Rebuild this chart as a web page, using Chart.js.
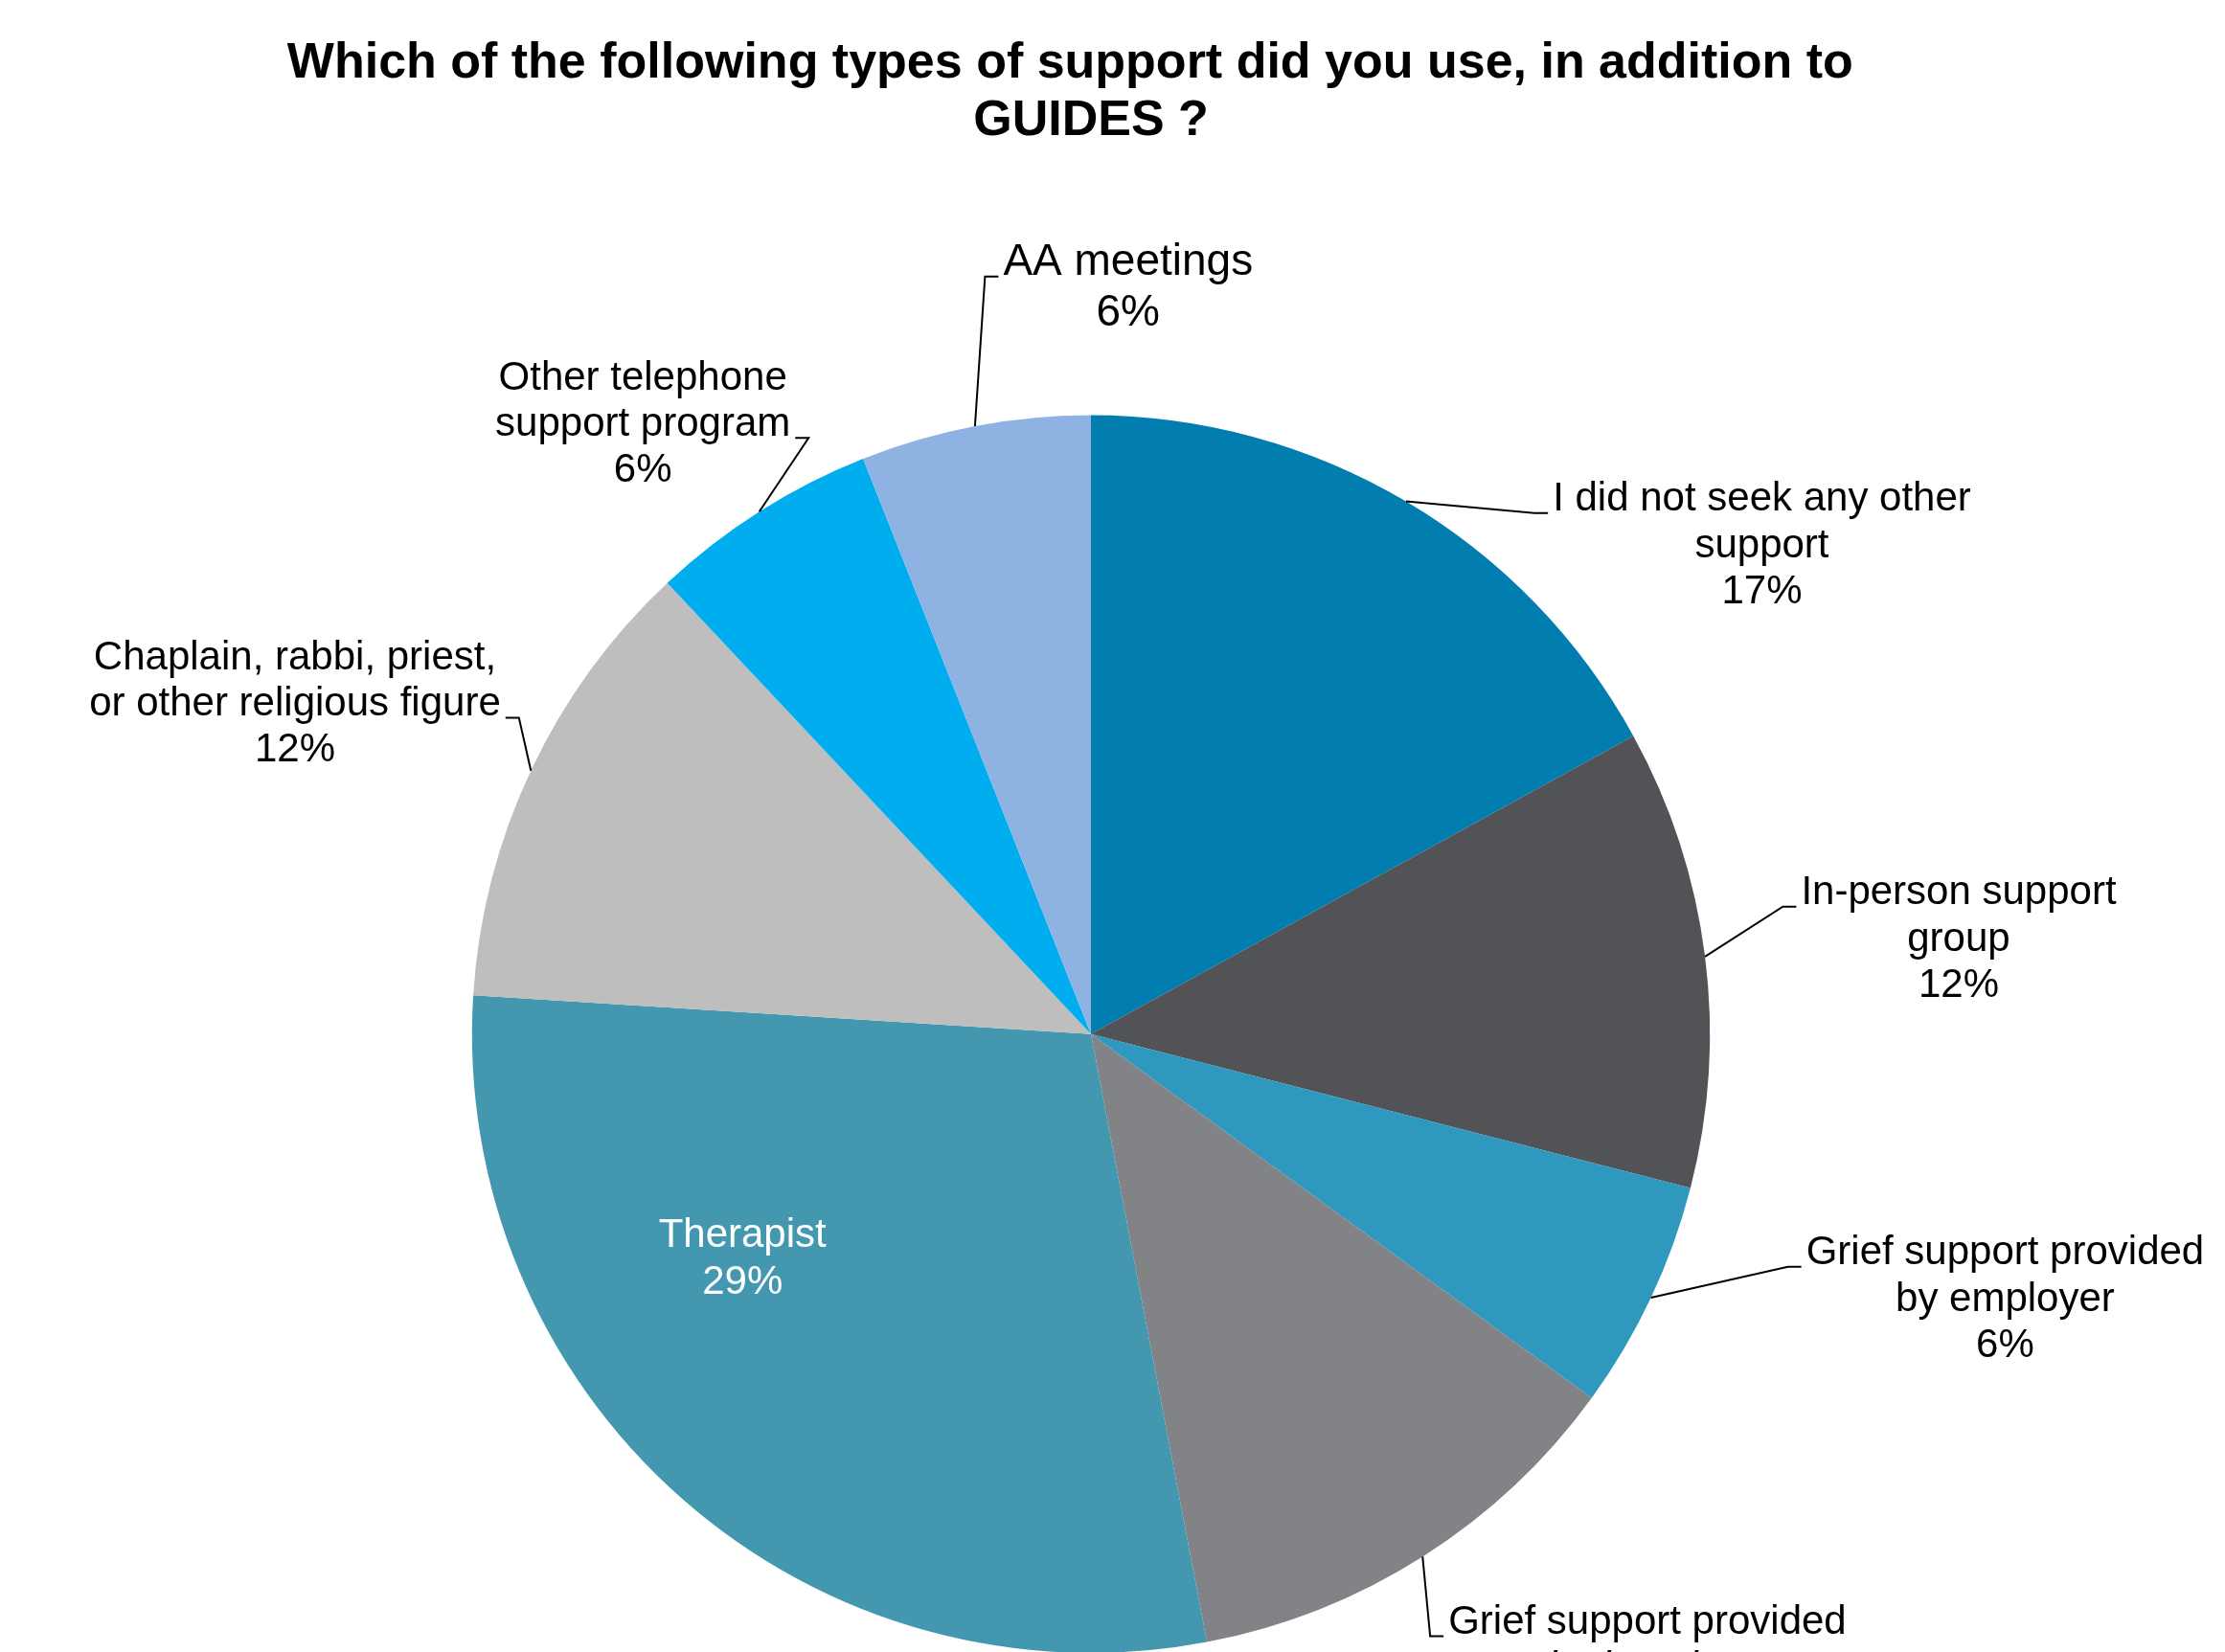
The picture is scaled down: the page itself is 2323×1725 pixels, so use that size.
<!doctype html>
<html lang="en">
<head>
<meta charset="utf-8">
<title>Support used in addition to GUIDES</title>
<script src="https://cdn.jsdelivr.net/npm/chart.js@4.4.0/dist/chart.umd.min.js"></script>
<style>
  html, body { margin: 0; padding: 0; background: #fff; overflow: hidden; }
  #wrap { width: 2323px; height: 1800px; }
</style>
</head>
<body>
<div id="wrap"><canvas id="chart"></canvas></div>
<script>
    // answers, clockwise from 12 o'clock
    const categories = [
        ['I did not seek any other', 'support'],
        ['In-person support', 'group'],
        ['Grief support provided', 'by employer'],
        ['Grief support provided', 'by hospice'],
        ['Therapist'],
        ['Chaplain, rabbi, priest,', 'or other religious figure'],
        ['Other telephone', 'support program'],
        ['AA meetings']
    ];
    const percents = [17, 12, 6, 12, 29, 12, 6, 6];
    const sliceColors = ['#027db0', '#515356', '#2e98be', '#828387', '#4398b0', '#bebebe', '#00aeef', '#8eb3e2'];

    // where each label block sits, as [dx, dy] from the pie centre in radius units,
    // and which text line the leader hooks onto (null = label inside, no leader)
    const labelSpots = [[1.084, -0.789], [1.402, -0.153], [1.477, 0.429], [0.899, 1.026],
                        [-0.563, 0.364], [-1.286, -0.533], [-0.724, -0.985], [0.060, -1.205]];
    const hookLine = [0, 0, 0, 0, null, 1, 1, 0];
    const labelSizes = [42, 42, 42, 42, 42, 42, 42, 46];

    const FONT = '"Liberation Sans", Arial, sans-serif';

    const calloutLabels = {
        id: 'calloutLabels',
        afterDatasetsDraw(chart) {
            const ctx = chart.ctx;
            const arcs = chart.getDatasetMeta(0).data;
            ctx.save();
            ctx.textAlign = 'center';
            ctx.textBaseline = 'middle';
            arcs.forEach((arc, i) => {
                const p = arc.getProps(['x', 'y', 'startAngle', 'endAngle', 'outerRadius'], true);
                const R = p.outerRadius;
                const mid = (p.startAngle + p.endAngle) / 2;
                const lines = categories[i].concat([percents[i] + '%']);
                const lineH = labelSizes[i] * 1.15;
                const cx = p.x + labelSpots[i][0] * R;
                const cy = p.y + labelSpots[i][1] * R;
                const firstY = cy - (lines.length - 1) / 2 * lineH;
                ctx.font = labelSizes[i] + 'px ' + FONT;
                const blockW = Math.max(...lines.map(l => ctx.measureText(l).width));

                if (hookLine[i] !== null) {
                    const ex = p.x + Math.cos(mid) * R;
                    const ey = p.y + Math.sin(mid) * R;
                    const right = cx > ex;
                    const edge = right ? cx - blockW / 2 - 5 : cx + blockW / 2 + 5;
                    const hy = firstY + hookLine[i] * lineH + 14;
                    const elbow = right ? edge - 14 : edge + 14;
                    ctx.beginPath();
                    ctx.moveTo(ex, ey);
                    ctx.lineTo(elbow, hy);
                    ctx.lineTo(edge, hy);
                    ctx.strokeStyle = '#000';
                    ctx.lineWidth = 2;
                    ctx.stroke();
                }

                ctx.fillStyle = hookLine[i] === null ? '#ffffff' : '#000000';
                lines.forEach((l, k) => ctx.fillText(l, cx, firstY + k * lineH));
            });
            ctx.restore();
        }
    };

    new Chart(document.getElementById('chart'), {
        type: 'pie',
        data: {
            labels: categories.map(c => c.join(' ')),
            datasets: [{
                data: percents,
                backgroundColor: sliceColors,
                borderWidth: 0
            }]
        },
        options: {
            responsive: true,
            maintainAspectRatio: false,
            animation: false,
            layout: { padding: { left: 0, right: 45, top: 0, bottom: 74 } },
            plugins: {
                legend: { display: false },
                tooltip: { enabled: false },
                title: {
                    display: true,
                    // line one keeps its trailing spaces from the wrap, which nudges it left
                    text: ['Which of the following types of support did you use, in addition to   ', 'GUIDES ?'],
                    color: '#000',
                    font: { family: FONT, size: 52, weight: 'bold', lineHeight: 1.15 },
                    padding: { top: 37, bottom: 277 }
                }
            }
        },
        plugins: [calloutLabels]
    });
</script>
</body>
</html>
